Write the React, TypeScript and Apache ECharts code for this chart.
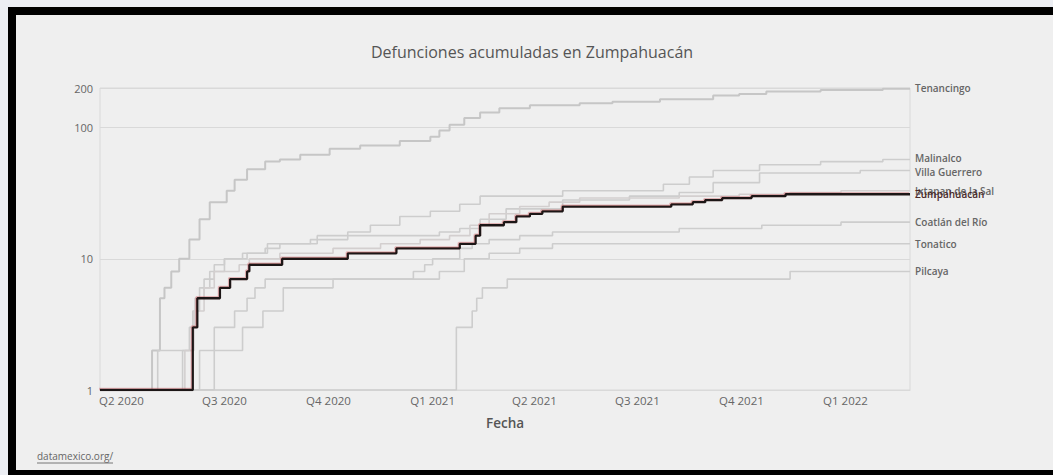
import React, { useEffect, useRef } from "react";
import * as echarts from "echarts";

type Pt = [string, number];

const titleText = "Defunciones acumuladas en Zumpahuacán";
const xAxisName = "Fecha";
const sourceText = "datamexico.org/";

const xMin = "2020-03-13";
const xMax = "2022-02-27";
const quarterTicks = ["2020-04-01", "2020-07-01", "2020-10-01", "2021-01-01", "2021-04-01", "2021-07-01", "2021-10-01", "2022-01-01"];
const quarterLabels = ["Q2 2020", "Q3 2020", "Q4 2020", "Q1 2021", "Q2 2021", "Q3 2021", "Q4 2021", "Q1 2022"];

const tenancingo: Pt[] = [
  ["2020-03-13", 1], ["2020-04-28", 2], ["2020-05-05", 5], ["2020-05-09", 6], ["2020-05-15", 8], ["2020-05-22", 10],
  ["2020-05-31", 14], ["2020-06-09", 20], ["2020-06-18", 27], ["2020-07-03", 33], ["2020-07-10", 40], ["2020-07-21", 48],
  ["2020-08-06", 55], ["2020-08-19", 57], ["2020-09-06", 62], ["2020-10-02", 69], ["2020-10-29", 73], ["2020-12-03", 79],
  ["2020-12-30", 85], ["2021-01-07", 95], ["2021-01-16", 105], ["2021-01-29", 118], ["2021-02-12", 130], ["2021-03-01", 140],
  ["2021-03-28", 148], ["2021-05-11", 153], ["2021-06-09", 157], ["2021-07-21", 164], ["2021-09-06", 175], ["2021-09-29", 180],
  ["2021-10-23", 188], ["2021-12-10", 193], ["2022-02-03", 197], ["2022-02-27", 199],
];

const malinalco: Pt[] = [
  ["2020-03-13", 1], ["2020-05-03", 2], ["2020-05-31", 3], ["2020-06-05", 5], ["2020-06-13", 7], ["2020-06-22", 9],
  ["2020-07-01", 10], ["2020-07-17", 11], ["2020-08-08", 13], ["2020-09-21", 15], ["2020-10-18", 16], ["2020-11-07", 18],
  ["2020-12-03", 21], ["2020-12-30", 23], ["2021-01-25", 26], ["2021-02-12", 30], ["2021-04-26", 33], ["2021-07-24", 37],
  ["2021-08-16", 42], ["2021-09-06", 47], ["2021-10-17", 52], ["2021-12-10", 55], ["2022-02-03", 57], ["2022-02-27", 57],
];

const villaGuerrero: Pt[] = [
  ["2020-03-13", 1], ["2020-05-25", 2], ["2020-06-03", 4], ["2020-06-09", 6], ["2020-06-18", 8], ["2020-07-01", 10],
  ["2020-07-21", 11], ["2020-08-06", 12], ["2020-08-19", 13], ["2020-09-15", 14], ["2020-10-18", 15], ["2021-01-07", 16],
  ["2021-01-25", 17], ["2021-02-12", 20], ["2021-03-07", 24], ["2021-04-26", 28], ["2021-06-24", 30], ["2021-08-07", 32],
  ["2021-09-06", 38], ["2021-10-17", 45], ["2022-01-14", 47], ["2022-02-27", 47],
];

const ixtapanDeLaSal: Pt[] = [
  ["2020-03-13", 1], ["2020-05-27", 2], ["2020-06-04", 4], ["2020-06-13", 6], ["2020-06-22", 8], ["2020-07-14", 9],
  ["2020-07-23", 10], ["2020-08-19", 11], ["2020-10-05", 12], ["2020-11-16", 13], ["2020-12-21", 14], ["2021-01-16", 15],
  ["2021-02-03", 18], ["2021-02-20", 22], ["2021-03-19", 25], ["2021-04-14", 27], ["2021-05-11", 29], ["2021-08-07", 30],
  ["2021-09-29", 31], ["2021-11-13", 32], ["2021-12-28", 33], ["2022-02-27", 33],
];

const coatlanDelRio: Pt[] = [
  ["2020-03-13", 1], ["2020-06-09", 2], ["2020-06-22", 3], ["2020-07-10", 4], ["2020-07-21", 5], ["2020-07-28", 6],
  ["2020-08-06", 7], ["2020-12-15", 8], ["2020-12-25", 9], ["2021-01-01", 10], ["2021-01-25", 12], ["2021-02-05", 13],
  ["2021-02-20", 14], ["2021-03-19", 15], ["2021-04-17", 16], ["2021-08-07", 17], ["2021-10-19", 18], ["2021-12-28", 19],
  ["2022-02-27", 19],
];

const tonatico: Pt[] = [
  ["2020-03-13", 1], ["2020-06-22", 2], ["2020-07-17", 3], ["2020-08-04", 4], ["2020-08-22", 6], ["2020-10-05", 7],
  ["2021-01-07", 8], ["2021-01-29", 10], ["2021-02-20", 11], ["2021-03-19", 12], ["2021-04-17", 13], ["2022-02-27", 13],
];

const pilcaya: Pt[] = [
  ["2020-03-13", 1], ["2021-01-22", 3], ["2021-02-05", 4], ["2021-02-09", 5], ["2021-02-14", 6], ["2021-03-08", 7],
  ["2021-11-13", 8], ["2022-02-27", 8],
];

const zumpahuacan: Pt[] = [
  ["2020-03-13", 1], ["2020-06-03", 3], ["2020-06-07", 5], ["2020-06-27", 6], ["2020-07-06", 7], ["2020-07-21", 8],
  ["2020-07-23", 9], ["2020-08-21", 10], ["2020-10-18", 11], ["2020-11-30", 12], ["2021-01-25", 13], ["2021-02-08", 15],
  ["2021-02-12", 18], ["2021-03-05", 19], ["2021-03-16", 21], ["2021-03-28", 22], ["2021-04-08", 23], ["2021-04-26", 25],
  ["2021-07-31", 26], ["2021-08-19", 27], ["2021-08-30", 28], ["2021-09-14", 29], ["2021-10-10", 30], ["2021-11-09", 31],
  ["2022-02-27", 31],
];

const otherNames = ["Tenancingo", "Malinalco", "Villa Guerrero", "Ixtapan de la Sal", "Coatlán del Río", "Tonatico", "Pilcaya"];
const otherData = [tenancingo, malinalco, villaGuerrero, ixtapanDeLaSal, coatlanDelRio, tonatico, pilcaya];
const highlightName = "Zumpahuacán";

const FONT = "'Open Sans', 'Noto Sans', sans-serif";

function parseDay(s: string): number {
  const [y, m, d] = s.split("-").map(Number);
  return new Date(y, m - 1, d).getTime();
}

export default function App() {
  const ref = useRef<HTMLDivElement>(null);

  useEffect(() => {
    if (!ref.current) return;
    const chart = echarts.init(ref.current, null, { renderer: "svg" });
    const tickTimes = quarterTicks.map(parseDay);
    const toData = (arr: Pt[]) => arr.map(([d, v]) => [parseDay(d), v]);

    const grayColors = ["#c6c6c6", "#cdcdcd", "#cdcdcd", "#d3cfcf", "#cdcdcd", "#cdcdcd", "#cdcdcd"];
    const labelOffsets: [number, number][] = [[0, 0], [0, -1.5], [0, 1.5], [0, 0], [0, 0], [0, 0], [0, 0]];

    const endLabelBase = {
      show: true,
      formatter: "{a}",
      fontSize: 10,
      lineHeight: 10,
      fontWeight: 600,
      fontFamily: FONT,
      distance: 5,
    };

    const series: any[] = otherNames.map((name, i) => ({
      name,
      type: "line",
      step: "end",
      showSymbol: false,
      silent: true,
      data: toData(otherData[i]),
      lineStyle: { color: grayColors[i], width: i === 0 ? 2 : 1.6 },
      z: 2,
      endLabel: { ...endLabelBase, color: "#666", offset: labelOffsets[i] },
    }));

    series.push({
      name: highlightName,
      type: "line",
      step: "end",
      showSymbol: false,
      silent: true,
      data: toData(zumpahuacan),
      lineStyle: {
        color: "#1e1414",
        width: 2.3,
        shadowColor: "rgba(200, 70, 80, 0.35)",
        shadowBlur: 1,
        shadowOffsetX: -1,
        shadowOffsetY: -1,
      },
      z: 5,
      endLabel: { ...endLabelBase, color: "#4a2a2a" },
    });

    const quarterLabel = (v: number) => {
      let best = 0;
      let bd = Infinity;
      tickTimes.forEach((t, i) => {
        const d = Math.abs(t - v);
        if (d < bd) { bd = d; best = i; }
      });
      return quarterLabels[best];
    };

    chart.setOption({
      animation: false,
      backgroundColor: "#efefef",
      textStyle: { fontFamily: FONT },
      grid: {
        left: 84,
        right: 143,
        top: 73,
        bottom: 80,
        show: true,
        borderColor: "#d9d9d9",
        borderWidth: 1,
        backgroundColor: "transparent",
      },
      xAxis: {
        type: "value",
        min: parseDay(xMin),
        max: parseDay(xMax),
        axisLine: { show: true, lineStyle: { color: "#d9d9d9" } },
        axisTick: { show: false, customValues: tickTimes },
        splitLine: { show: false },
        axisLabel: {
          customValues: tickTimes,
          color: "#666",
          fontSize: 11.5,
          fontFamily: FONT,
          margin: 4,
          formatter: (v: number) => quarterLabel(v),
        },
      },
      yAxis: {
        type: "log",
        logBase: 10,
        min: 1,
        max: 200,
        axisLine: { show: false },
        axisTick: { show: false },
        splitLine: { show: true, lineStyle: { color: "#d9d9d9", width: 1 } },
        axisLabel: { color: "#666", fontSize: 11, fontFamily: FONT, margin: 7 },
      },
      graphic: [
        {
          type: "text",
          x: 516,
          y: 37,
          style: {
            text: titleText,
            fill: "#555",
            font: `16px ${FONT}`,
            textAlign: "center",
            textVerticalAlign: "middle",
          },
        },
        {
          type: "text",
          x: 489,
          y: 408,
          style: {
            text: xAxisName,
            fill: "#555",
            font: `600 13.5px ${FONT}`,
            textAlign: "center",
            textVerticalAlign: "middle",
          },
        },
        {
          type: "text",
          x: 21,
          y: 441,
          style: {
            text: sourceText,
            fill: "#666",
            font: `10px ${FONT}`,
            textAlign: "left",
            textVerticalAlign: "middle",
          },
        },
        {
          type: "line",
          shape: { x1: 21, y1: 448, x2: 97, y2: 448 },
          style: { stroke: "#777", lineWidth: 1 },
        },
      ],
      series,
    });

    return () => chart.dispose();
  }, []);

  return (
    <div style={{ position: "fixed", left: 0, top: 0, width: 1053, height: 475, background: "#eceef3", overflow: "hidden" }}>
      <div style={{ position: "absolute", left: 8, top: 7, width: 1060, height: 480, background: "#000" }} />
      <div ref={ref} style={{ position: "absolute", left: 16, top: 15, width: 1037, height: 455, background: "#efefef" }} />
    </div>
  );
}
